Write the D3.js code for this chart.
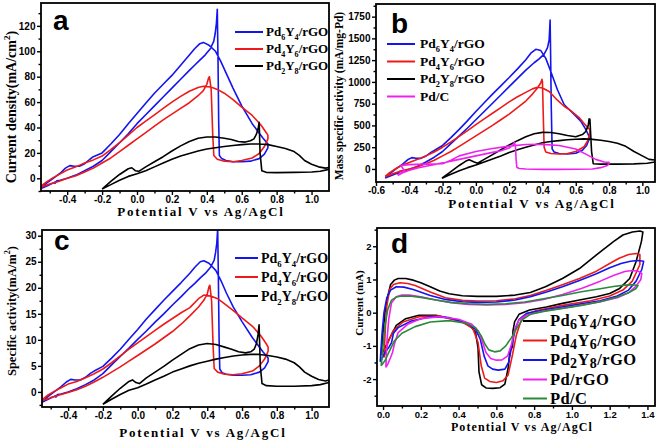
<!DOCTYPE html>
<html>
<head>
<meta charset="utf-8">
<script src="https://cdn.jsdelivr.net/npm/d3@7"></script>
<style>
  body { margin: 0; background: #fff; }
</style>
</head>
<body>
<svg id="chart" width="661" height="440"></svg>
<script>
// ---- data: [potential (V vs Ag/AgCl), current] ----
// panel a : current density (mA/cm2)
const aPd6Y4 = [[-0.55,-8],[-0.52,-4],[-0.48,0],[-0.44,4],[-0.41,8],[-0.385,10],[-0.36,9.5],[-0.33,9.5],[-0.3,11.5],[-0.27,15],[-0.25,17],[-0.2,20],[-0.15,27],[-0.1,34.5],[-0.05,43],[0,51],[0.05,59],[0.1,67],[0.15,74],[0.2,81],[0.25,89],[0.3,97],[0.33,102],[0.36,106],[0.38,107],[0.41,105],[0.45,100],[0.48,92],[0.51,83],[0.55,71],[0.6,57],[0.66,43],[0.72,32],[0.75,27],
  [0.75,24],[0.73,19],[0.7,15.5],[0.65,13.5],[0.6,13],[0.55,13],[0.51,14],[0.485,15.5],[0.472,18],[0.468,45],[0.464,95],[0.46,133],[0.455,122],[0.448,114],[0.44,108],[0.42,102],[0.39,97],[0.36,93],[0.33,89],[0.3,85],[0.25,78],[0.2,71],[0.15,64],[0.1,57],[0.05,50],[0,43],[-0.05,35],[-0.1,28],[-0.15,21],[-0.2,14],[-0.25,9.5],[-0.3,6],[-0.35,2.5],[-0.4,0],[-0.44,-1.5],[-0.46,-2],[-0.47,-4],[-0.462,-2.5],[-0.5,-5],[-0.55,-8]];
const aPd4Y6 = [[-0.55,-6],[-0.52,-3],[-0.48,0.5],[-0.44,3.5],[-0.4,6.5],[-0.35,9],[-0.3,12],[-0.25,14.5],[-0.2,17.5],[-0.15,22.5],[-0.1,28],[-0.05,34],[0,40],[0.05,45],[0.1,50],[0.15,55],[0.2,60],[0.25,64.5],[0.3,68.5],[0.35,71.5],[0.38,72.5],[0.42,72],[0.46,70],[0.5,67],[0.55,62],[0.6,56],[0.66,49.5],[0.71,42],[0.74,36],[0.75,34],
  [0.75,31],[0.73,25],[0.7,19.5],[0.66,16],[0.6,14],[0.55,13],[0.5,13.5],[0.46,15],[0.44,18],[0.434,34],[0.425,70],[0.415,80],[0.41,79],[0.4,74],[0.38,69],[0.35,65],[0.3,59.5],[0.25,55],[0.2,50.5],[0.15,46],[0.1,41],[0.05,36],[0,31],[-0.05,26],[-0.1,21],[-0.15,16],[-0.2,12],[-0.25,8],[-0.3,5],[-0.35,2],[-0.4,0],[-0.45,-2.5],[-0.5,-4.5],[-0.55,-7]];
const aPd2Y8 = [[-0.2,-8.5],[-0.15,-5],[-0.1,-1.5],[-0.05,1.5],[0,3.5],[0.05,6],[0.1,9],[0.15,12],[0.2,15],[0.25,17.5],[0.3,19.5],[0.35,21.5],[0.4,23],[0.45,24],[0.5,25],[0.55,25.8],[0.6,26.5],[0.65,27],[0.7,27],[0.75,26.5],[0.8,25],[0.85,23.5],[0.9,21],[0.93,18],[0.96,14],[1.0,11],[1.04,9],[1.08,8],[1.1,8.5],
  [1.1,7],[1.05,5.5],[1.0,5],[0.9,4.7],[0.8,4.5],[0.74,4.7],[0.715,6],[0.705,20],[0.7,44],[0.695,40],[0.685,35],[0.67,31],[0.65,29.5],[0.62,28.5],[0.58,29],[0.54,30.5],[0.5,31.5],[0.45,32.5],[0.4,32.5],[0.35,31.5],[0.3,29],[0.25,25.5],[0.2,21.5],[0.15,17],[0.1,13],[0.05,9],[0.01,5.5],[-0.01,6],[-0.03,8.3],[-0.05,7.5],[-0.1,3],[-0.15,-2.5],[-0.2,-8.5]];

// panel b : mass specific activity (mA/mg-Pd)
const bPd6Y4 = [[-0.545,-105],[-0.52,-60],[-0.48,0],[-0.44,55],[-0.41,105],[-0.385,130],[-0.36,122],[-0.33,122],[-0.3,148],[-0.27,190],[-0.25,212],[-0.2,270],[-0.15,360],[-0.1,455],[-0.05,555],[0,660],[0.05,760],[0.1,860],[0.15,955],[0.2,1050],[0.25,1150],[0.3,1255],[0.33,1330],[0.36,1375],[0.39,1360],[0.42,1270],[0.45,1120],[0.49,910],[0.53,740],[0.58,645],[0.63,550],[0.66,455],[0.68,375],
  [0.68,340],[0.665,270],[0.64,215],[0.6,180],[0.55,172],[0.5,178],[0.47,195],[0.458,230],[0.453,700],[0.449,1300],[0.446,1712],[0.44,1480],[0.43,1390],[0.41,1320],[0.38,1265],[0.35,1220],[0.3,1135],[0.25,1040],[0.2,945],[0.15,850],[0.1,755],[0.05,660],[0,565],[-0.05,470],[-0.1,380],[-0.15,290],[-0.2,200],[-0.25,135],[-0.3,80],[-0.35,30],[-0.4,-5],[-0.44,-25],[-0.46,-30],[-0.47,-55],[-0.462,-40],[-0.5,-70],[-0.545,-105]];
const bPd4Y6 = [[-0.545,-85],[-0.52,-45],[-0.48,5],[-0.44,45],[-0.4,75],[-0.35,110],[-0.3,150],[-0.25,195],[-0.2,250],[-0.15,310],[-0.1,375],[-0.05,440],[0,510],[0.05,575],[0.1,640],[0.15,705],[0.2,770],[0.25,830],[0.3,880],[0.34,920],[0.37,938],[0.4,930],[0.44,890],[0.49,790],[0.53,720],[0.57,670],[0.62,590],[0.66,500],[0.685,450],
  [0.685,400],[0.67,320],[0.65,255],[0.6,200],[0.55,178],[0.5,172],[0.45,178],[0.42,195],[0.41,250],[0.405,600],[0.4,1000],[0.397,1030],[0.39,990],[0.37,930],[0.34,860],[0.3,780],[0.25,705],[0.2,630],[0.15,565],[0.1,500],[0.05,440],[0,380],[-0.05,320],[-0.1,260],[-0.15,200],[-0.2,150],[-0.25,100],[-0.3,60],[-0.35,25],[-0.4,0],[-0.45,-25],[-0.5,-55],[-0.545,-90]];
const bPd2Y8 = [[-0.204,-107],[-0.15,-60],[-0.1,-20],[-0.05,15],[0,45],[0.05,80],[0.1,115],[0.15,150],[0.2,190],[0.25,220],[0.3,250],[0.35,275],[0.4,300],[0.45,315],[0.5,325],[0.55,335],[0.6,342],[0.65,345],[0.7,340],[0.75,330],[0.8,315],[0.85,295],[0.9,260],[0.95,200],[1.0,150],[1.04,110],[1.076,103],
  [1.076,80],[1.03,65],[0.95,58],[0.85,55],[0.75,55],[0.705,60],[0.695,200],[0.685,570],[0.68,575],[0.675,500],[0.66,430],[0.64,395],[0.6,370],[0.55,385],[0.5,405],[0.45,418],[0.4,420],[0.35,405],[0.3,370],[0.25,325],[0.2,275],[0.15,220],[0.1,165],[0.05,110],[0.01,65],[-0.01,80],[-0.04,105],[-0.06,90],[-0.1,40],[-0.15,-30],[-0.204,-107]];
const bPdC = [[-0.47,-75],[-0.44,-45],[-0.4,-15],[-0.35,10],[-0.3,30],[-0.2,70],[-0.1,110],[0,150],[0.05,170],[0.1,190],[0.15,210],[0.2,240],[0.22,270],[0.232,306],[0.238,250],[0.242,100],[0.246,20],[0.26,5],[0.3,0],[0.4,-5],[0.5,-5],[0.6,-3],[0.7,0],[0.75,15],[0.79,40],[0.8,60],
  [0.8,75],[0.77,80],[0.72,110],[0.66,170],[0.6,230],[0.5,270],[0.4,282],[0.3,280],[0.2,262],[0.1,235],[0,200],[-0.1,150],[-0.15,100],[-0.2,60],[-0.3,55],[-0.4,50],[-0.45,40],[-0.43,-20],[-0.47,-75]];

// panel c : specific activity (mA/m2)
const cPd6Y4 = [[-0.55,-2],[-0.52,-1],[-0.48,0],[-0.44,1],[-0.41,1.9],[-0.385,2.4],[-0.36,2.3],[-0.33,2.3],[-0.3,2.8],[-0.27,3.6],[-0.25,4],[-0.2,4.9],[-0.15,6.5],[-0.1,8.2],[-0.05,10.1],[0,12],[0.05,14],[0.1,15.8],[0.15,17.6],[0.2,19.3],[0.25,21],[0.3,22.8],[0.33,24],[0.36,25],[0.38,25.2],[0.41,24.7],[0.45,23.3],[0.48,21.3],[0.51,19],[0.55,16.3],[0.6,13.5],[0.66,10.4],[0.72,7.7],[0.75,6.5],
  [0.75,5.8],[0.73,4.6],[0.7,3.8],[0.65,3.3],[0.6,3.2],[0.55,3.2],[0.51,3.4],[0.485,3.7],[0.472,4.4],[0.468,10.5],[0.464,22],[0.46,31.3],[0.455,28.6],[0.448,26.8],[0.44,25.3],[0.42,24],[0.39,22.8],[0.36,21.9],[0.33,20.9],[0.3,20],[0.25,18.3],[0.2,16.7],[0.15,15],[0.1,13.4],[0.05,11.7],[0,10.1],[-0.05,8.4],[-0.1,6.8],[-0.15,5.2],[-0.2,3.5],[-0.25,2.3],[-0.3,1.4],[-0.35,0.6],[-0.4,0],[-0.44,-0.4],[-0.46,-0.5],[-0.47,-1],[-0.462,-0.6],[-0.5,-1.2],[-0.55,-2]];
const cPd4Y6 = [[-0.55,-1.5],[-0.52,-0.7],[-0.48,0.1],[-0.44,0.8],[-0.4,1.5],[-0.35,2],[-0.3,2.7],[-0.25,3.5],[-0.2,4.4],[-0.15,5.6],[-0.1,6.9],[-0.05,8.2],[0,9.4],[0.05,10.6],[0.1,11.8],[0.15,13],[0.2,14.1],[0.25,15.2],[0.3,16.2],[0.35,17.9],[0.38,18.6],[0.42,18.4],[0.46,17.9],[0.5,16.9],[0.55,15.6],[0.6,14.2],[0.66,12.6],[0.71,10.7],[0.74,9.2],[0.75,8.6],
  [0.75,7.8],[0.73,6.3],[0.7,5],[0.66,4],[0.6,3.5],[0.55,3.3],[0.5,3.4],[0.46,3.8],[0.44,4.5],[0.434,8.5],[0.425,17.5],[0.415,20.5],[0.41,20.2],[0.4,18.8],[0.38,17.6],[0.35,16.3],[0.3,14.6],[0.25,13],[0.2,11.6],[0.15,10.4],[0.1,9.2],[0.05,8.1],[0,7],[-0.05,5.9],[-0.1,4.8],[-0.15,3.8],[-0.2,2.8],[-0.25,1.9],[-0.3,1.1],[-0.35,0.4],[-0.4,-0.1],[-0.45,-0.6],[-0.5,-1.1],[-0.55,-1.7]];
const cPd2Y8 = [[-0.2,-2.4],[-0.15,-1.4],[-0.1,-0.5],[-0.05,0.3],[0,0.8],[0.05,1.5],[0.1,2.3],[0.15,3],[0.2,3.8],[0.25,4.4],[0.3,5],[0.35,5.5],[0.4,5.9],[0.45,6.3],[0.5,6.6],[0.55,6.9],[0.6,7.1],[0.65,7.2],[0.7,7.2],[0.75,7],[0.8,6.7],[0.85,6.3],[0.9,5.6],[0.93,4.8],[0.96,3.8],[1.0,3],[1.04,2.4],[1.08,2.1],[1.1,2.3],
  [1.1,1.8],[1.05,1.4],[1.0,1.2],[0.9,1.1],[0.8,1.1],[0.74,1.2],[0.715,1.6],[0.705,5],[0.698,12.9],[0.692,11],[0.683,9.3],[0.67,8.2],[0.65,7.7],[0.62,7.5],[0.58,7.7],[0.54,8.2],[0.5,8.6],[0.45,9.1],[0.4,9.3],[0.35,9],[0.3,8.3],[0.25,7.2],[0.2,6.1],[0.15,4.9],[0.1,3.8],[0.05,2.7],[0.01,1.6],[-0.01,1.8],[-0.03,2.3],[-0.05,2],[-0.1,0.7],[-0.15,-0.8],[-0.2,-2.4]];

// panel d : current (mA)
const dPd6Y4 = [[-0.01,-1.28],[0,-0.6],[0.01,0],[0.025,0.5],[0.04,0.85],[0.06,0.98],[0.08,1.03],[0.12,1.03],[0.16,0.98],[0.2,0.9],[0.25,0.78],[0.3,0.65],[0.35,0.57],[0.42,0.51],[0.5,0.49],[0.6,0.49],[0.7,0.53],[0.78,0.61],[0.86,0.78],[0.95,1.03],[1.04,1.33],[1.13,1.74],[1.22,2.14],[1.27,2.34],[1.32,2.43],[1.36,2.46],[1.376,2.43],
  [1.368,2.14],[1.34,1.54],[1.306,1.03],[1.253,0.73],[1.2,0.58],[1.13,0.48],[1.04,0.38],[0.95,0.28],[0.865,0.17],[0.776,0.08],[0.72,-0.05],[0.697,-0.27],[0.688,-0.55],[0.686,-1.02],[0.672,-1.15],[0.662,-1.68],[0.645,-2.15],[0.62,-2.26],[0.58,-2.28],[0.547,-2.27],[0.522,-2.17],[0.508,-1.78],[0.503,-1.07],[0.49,-0.6],[0.46,-0.38],[0.39,-0.22],[0.28,-0.08],[0.19,-0.08],[0.12,-0.18],[0.07,-0.38],[0.035,-0.77],[0.01,-1.07],[-0.01,-1.28]];
const dPd4Y6 = [[0.005,-1.35],[0.012,-0.5],[0.02,0.2],[0.035,0.7],[0.055,0.85],[0.09,0.9],[0.13,0.88],[0.17,0.82],[0.25,0.62],[0.33,0.45],[0.42,0.37],[0.5,0.35],[0.6,0.36],[0.7,0.42],[0.78,0.52],[0.87,0.68],[0.95,0.84],[1.04,1.03],[1.13,1.25],[1.2,1.48],[1.25,1.64],[1.3,1.75],[1.34,1.78],[1.36,1.75],
  [1.36,1.45],[1.32,0.95],[1.27,0.68],[1.2,0.5],[1.1,0.36],[0.95,0.22],[0.81,0.06],[0.76,-0.05],[0.73,-0.25],[0.706,-0.67],[0.685,-1.28],[0.662,-1.88],[0.635,-2.05],[0.6,-2.1],[0.565,-2.07],[0.538,-1.97],[0.52,-1.6],[0.503,-0.9],[0.476,-0.48],[0.42,-0.28],[0.3,-0.1],[0.19,-0.12],[0.106,-0.28],[0.053,-0.55],[0.026,-0.9],[0.005,-1.35]];
const dPd2Y8 = [[-0.015,-1.48],[-0.005,-0.6],[0.005,0],[0.02,0.45],[0.04,0.68],[0.07,0.78],[0.11,0.77],[0.16,0.7],[0.25,0.52],[0.33,0.4],[0.42,0.33],[0.5,0.31],[0.6,0.32],[0.7,0.38],[0.78,0.48],[0.87,0.63],[0.95,0.78],[1.04,0.97],[1.13,1.17],[1.2,1.35],[1.26,1.48],[1.31,1.55],[1.35,1.57],[1.38,1.55],
  [1.37,1.3],[1.34,0.95],[1.3,0.68],[1.24,0.5],[1.15,0.36],[1.0,0.22],[0.85,0.08],[0.76,-0.02],[0.72,-0.2],[0.7,-0.5],[0.68,-1.05],[0.665,-1.5],[0.645,-1.7],[0.61,-1.73],[0.58,-1.7],[0.555,-1.6],[0.535,-1.3],[0.515,-0.8],[0.49,-0.5],[0.44,-0.3],[0.35,-0.15],[0.25,-0.12],[0.15,-0.25],[0.08,-0.45],[0.055,-0.62],[0.045,-0.9],[0.03,-1.05],[0.01,-1.2],[-0.015,-1.48]];
const dPdrGO = [[0.015,-1.65],[0.02,-0.9],[0.03,-0.2],[0.045,0.3],[0.07,0.48],[0.1,0.53],[0.14,0.53],[0.2,0.48],[0.28,0.38],[0.36,0.3],[0.45,0.25],[0.55,0.23],[0.65,0.25],[0.75,0.3],[0.85,0.4],[0.95,0.55],[1.05,0.73],[1.15,0.95],[1.22,1.12],[1.28,1.24],[1.32,1.27],[1.35,1.25],[1.37,1.18],
  [1.365,1.0],[1.34,0.8],[1.3,0.6],[1.24,0.45],[1.15,0.33],[1.0,0.18],[0.85,0.05],[0.76,-0.07],[0.72,-0.22],[0.7,-0.45],[0.68,-0.95],[0.66,-1.3],[0.63,-1.42],[0.6,-1.43],[0.57,-1.38],[0.545,-1.2],[0.525,-0.85],[0.505,-0.55],[0.47,-0.35],[0.4,-0.2],[0.3,-0.12],[0.2,-0.18],[0.13,-0.35],[0.08,-0.6],[0.06,-0.95],[0.05,-1.2],[0.04,-1.35],[0.025,-1.55],[0.015,-1.65]];
const dPdC = [[-0.01,-1.6],[0,-1.0],[0.01,-0.4],[0.025,0.1],[0.045,0.38],[0.07,0.47],[0.1,0.5],[0.14,0.5],[0.2,0.46],[0.28,0.38],[0.36,0.31],[0.45,0.27],[0.55,0.25],[0.65,0.27],[0.75,0.32],[0.85,0.42],[0.95,0.52],[1.05,0.63],[1.15,0.72],[1.22,0.79],[1.28,0.83],[1.32,0.84],[1.35,0.82],
  [1.34,0.73],[1.3,0.6],[1.24,0.47],[1.15,0.33],[1.05,0.22],[0.95,0.13],[0.85,0.04],[0.78,-0.05],[0.74,-0.2],[0.71,-0.45],[0.68,-0.75],[0.65,-1.0],[0.62,-1.15],[0.59,-1.18],[0.56,-1.12],[0.54,-0.95],[0.52,-0.7],[0.49,-0.45],[0.44,-0.32],[0.35,-0.24],[0.25,-0.28],[0.17,-0.42],[0.1,-0.62],[0.06,-0.85],[0.03,-1.2],[0.01,-1.45],[-0.01,-1.6]];

// tick labels
const xTicksABC = [-0.4, -0.2, 0.0, 0.2, 0.4, 0.6, 0.8, 1.0];
const xTicksB = [-0.6, -0.4, -0.2, 0.0, 0.2, 0.4, 0.6, 0.8, 1.0];
const xTicksD = [0.0, 0.2, 0.4, 0.6, 0.8, 1.0, 1.2, 1.4];
const yTicksA = [0, 20, 40, 60, 80, 100, 120];
const yTicksB = [0, 250, 500, 750, 1000, 1250, 1500, 1750];
const yTicksC = [0, 5, 10, 15, 20, 25, 30];
const yTicksD = [-2, -1, 0, 1, 2];

const names = ["Pd_6Y_4/rGO", "Pd_4Y_6/rGO", "Pd_2Y_8/rGO", "Pd/C", "Pd/rGO"];

const BLUE = "#1414ee", RED = "#ee1a1a", BLACK = "#000000", MAGENTA = "#ee22ee", GREEN = "#2a8a3a";
const SANS = "'Liberation Sans', Arial, sans-serif";
const SERIF = "'Liberation Serif', 'Times New Roman', serif";

const svg = d3.select("#chart");

// write "Pd_6Y_4" / "cm^2" style labels with sub/superscripts
function richText(text, str, small, shift) {
  const re = /([_^])(.)|([^_^]+)/g;
  let m, prev = 0;
  while ((m = re.exec(str))) {
    if (m[3]) {
      text.append("tspan").attr("dy", -prev).text(m[3]);
      prev = 0;
    } else {
      const s = m[1] === "_" ? shift : -shift * 1.5;
      text.append("tspan").attr("dy", s - prev).attr("font-size", small).text(m[2]);
      prev = s;
    }
  }
}

function drawPanel(p) {
  const x = d3.scaleLinear().domain(p.xDomain).range([p.left, p.right]);
  const y = d3.scaleLinear().domain(p.yDomain).range([p.bottom, p.top]);
  const g = svg.append("g");

  g.append("clipPath").attr("id", "clip-" + p.letter)
    .append("rect")
    .attr("x", p.left).attr("y", p.top)
    .attr("width", p.right - p.left).attr("height", p.bottom - p.top);

  const line = d3.line().x(d => x(d[0])).y(d => y(d[1]));

  p.series.forEach(s => {
    g.append("path")
      .datum(s.data)
      .attr("d", line)
      .attr("fill", "none")
      .attr("stroke", s.color)
      .attr("stroke-width", 1.6)
      .attr("stroke-linejoin", "round")
      .attr("clip-path", `url(#clip-${p.letter})`);
  });

  // minor ticks first, then labelled ticks
  g.append("g").attr("transform", `translate(0,${p.bottom})`)
    .call(d3.axisBottom(x).tickValues(p.xMinor).tickSize(2.5).tickFormat(""));
  g.append("g").attr("transform", `translate(${p.left},0)`)
    .call(d3.axisLeft(y).tickValues(p.yMinor).tickSize(2.5).tickFormat(""));

  g.append("g").attr("transform", `translate(0,${p.bottom})`)
    .call(d3.axisBottom(x).tickValues(p.xTicks).tickSize(4).tickPadding(1).tickFormat(d => d.toFixed(1)));
  g.append("g").attr("transform", `translate(${p.left},0)`)
    .call(d3.axisLeft(y).tickValues(p.yTicks).tickSize(4).tickPadding(1.5).tickFormat(d => String(d)));

  g.selectAll(".domain").remove();
  g.selectAll(".tick line").attr("stroke", "#000").attr("stroke-width", 1.4);
  g.selectAll(".tick text")
    .attr("fill", "#000")
    .attr("font-family", SANS)
    .attr("font-weight", "bold")
    .attr("font-size", p.tickSize);

  // frame
  g.append("rect")
    .attr("x", p.left).attr("y", p.top)
    .attr("width", p.right - p.left).attr("height", p.bottom - p.top)
    .attr("fill", "none").attr("stroke", "#000").attr("stroke-width", 1.8);

  // panel letter
  g.append("text")
    .attr("x", p.letterPos[0]).attr("y", p.letterPos[1])
    .attr("font-family", SANS).attr("font-weight", "bold").attr("font-size", 28)
    .text(p.letter);

  // x title
  g.append("text")
    .attr("x", p.xTitle.x).attr("y", p.xTitle.y)
    .attr("text-anchor", "middle")
    .attr("font-family", SERIF).attr("font-weight", "bold")
    .attr("font-size", p.xTitle.size).attr("letter-spacing", p.xTitle.spacing)
    .text("Potential V vs Ag/AgCl");

  // y title
  const yt = g.append("text")
    .attr("transform", `translate(${p.yTitle.x},${p.yTitle.y}) rotate(-90)`)
    .attr("text-anchor", "middle")
    .attr("font-family", SERIF).attr("font-weight", "bold")
    .attr("font-size", p.yTitle.size);
  richText(yt, p.yTitle.text, p.yTitle.size * 0.65, p.yTitle.size * 0.3);

  // legend
  const lg = p.legend;
  p.series.forEach((s, i) => {
    const ly = lg.ys[i];
    g.append("line")
      .attr("x1", lg.x1).attr("x2", lg.x2).attr("y1", ly).attr("y2", ly)
      .attr("stroke", s.color).attr("stroke-width", 2);
    const t = g.append("text")
      .attr("x", lg.textX).attr("y", ly + lg.size * 0.33)
      .attr("font-family", SERIF).attr("font-weight", "bold")
      .attr("font-size", lg.size)
      .attr("letter-spacing", lg.spacing || 0);
    richText(t, s.name, lg.size * lg.subScale, lg.size * lg.subShift);
  });
}

const panels = [
  {
    letter: "a", left: 41, right: 329, top: 3, bottom: 191, tickSize: 10,
    xDomain: [-0.55, 1.1], yDomain: [-10, 138],
    xTicks: xTicksABC, xMinor: d3.range(-0.5, 1.1, 0.2),
    yTicks: yTicksA, yMinor: d3.range(-10, 138, 20),
    letterPos: [53, 30],
    xTitle: { x: 201, y: 216, size: 13, spacing: 1.8 },
    yTitle: { x: 16, y: 107, size: 14, text: "Current density(mA/cm^2)" },
    legend: { x1: 235, x2: 263, textX: 266, ys: [32, 49, 66], size: 13, subScale: 0.62, subShift: 0.3 },
    series: [
      { name: names[0], color: BLUE, data: aPd6Y4 },
      { name: names[1], color: RED, data: aPd4Y6 },
      { name: names[2], color: BLACK, data: aPd2Y8 }
    ]
  },
  {
    letter: "b", left: 376, right: 655, top: 4, bottom: 182, tickSize: 10,
    xDomain: [-0.6, 1.076], yDomain: [-150, 1895],
    xTicks: xTicksB, xMinor: d3.range(-0.5, 1.08, 0.2),
    yTicks: yTicksB, yMinor: d3.range(125, 1895, 250),
    letterPos: [391, 33],
    xTitle: { x: 532, y: 208, size: 13, spacing: 1.8 },
    yTitle: { x: 343, y: 96, size: 11.5, text: "Mass specific activity (mA/mg-Pd)" },
    legend: { x1: 387, x2: 415, textX: 420, ys: [44, 61.5, 79, 96.5], size: 13.5, subScale: 0.62, subShift: 0.28 },
    series: [
      { name: names[0], color: BLUE, data: bPd6Y4 },
      { name: names[1], color: RED, data: bPd4Y6 },
      { name: names[2], color: BLACK, data: bPd2Y8 },
      { name: names[3], color: MAGENTA, data: bPdC }
    ]
  },
  {
    letter: "c", left: 42, right: 329, top: 230, bottom: 407, tickSize: 10,
    xDomain: [-0.55, 1.1], yDomain: [-2.9, 31.1],
    xTicks: xTicksABC, xMinor: d3.range(-0.5, 1.1, 0.2),
    yTicks: yTicksC, yMinor: d3.range(-2.5, 31, 5),
    letterPos: [54, 250],
    xTitle: { x: 203, y: 437, size: 13, spacing: 1.8 },
    yTitle: { x: 16, y: 311, size: 12.5, text: "Specific activity(mA/m^2)" },
    legend: { x1: 235, x2: 258, textX: 261, ys: [258, 277, 296], size: 14, subScale: 0.62, subShift: 0.3 },
    series: [
      { name: names[0], color: BLUE, data: cPd6Y4 },
      { name: names[1], color: RED, data: cPd4Y6 },
      { name: names[2], color: BLACK, data: cPd2Y8 }
    ]
  },
  {
    letter: "d", left: 377, right: 655, top: 228, bottom: 406, tickSize: 9.5,
    xDomain: [-0.032, 1.44], yDomain: [-2.81, 2.55],
    xTicks: xTicksD, xMinor: d3.range(0.1, 1.44, 0.2),
    yTicks: yTicksD, yMinor: d3.range(-2.5, 2.55, 1),
    letterPos: [391, 253],
    xTitle: { x: 522, y: 431, size: 12, spacing: 1.1 },
    yTitle: { x: 363, y: 303, size: 11, text: "Current (mA)" },
    legend: { x1: 523, x2: 547, textX: 550, ys: [321, 340.5, 360, 379.5, 398.5], size: 16.5, subScale: 0.85, subShift: 0.16, spacing: 0.4 },
    series: [
      { name: names[0], color: BLACK, data: dPd6Y4 },
      { name: names[1], color: RED, data: dPd4Y6 },
      { name: names[2], color: BLUE, data: dPd2Y8 },
      { name: names[4], color: MAGENTA, data: dPdrGO },
      { name: names[3], color: GREEN, data: dPdC }
    ]
  }
];

panels.forEach(drawPanel);
</script>
</body>
</html>
